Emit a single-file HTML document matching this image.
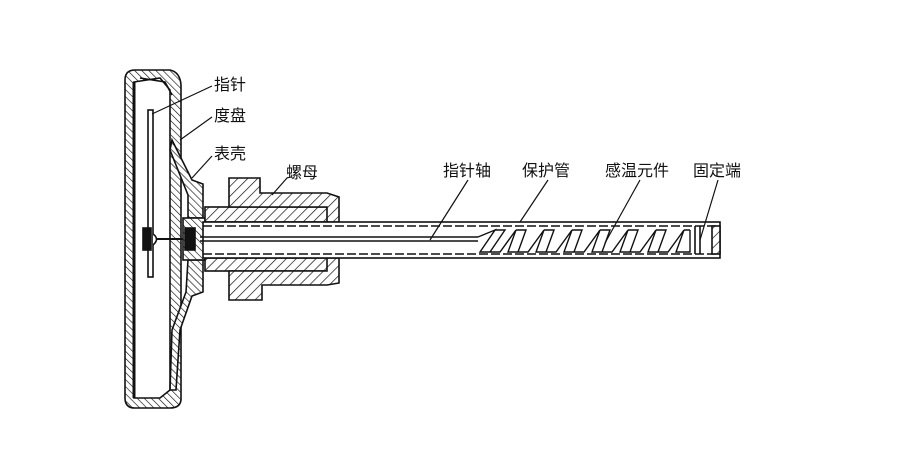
<!DOCTYPE html>
<html><head><meta charset="utf-8"><style>
html,body{margin:0;padding:0;background:#fff;}
svg{display:block}
text{font-family:"Liberation Sans","Noto Sans CJK SC",sans-serif;font-size:16px;fill:#111}
</style></head><body>
<svg width="900" height="474" viewBox="0 0 900 474" xmlns="http://www.w3.org/2000/svg">
<defs>
<pattern id="h" width="7" height="7" patternUnits="userSpaceOnUse" patternTransform="rotate(45)">
<rect width="7" height="7" fill="#fff"/><line x1="0" y1="0" x2="0" y2="7" stroke="#111" stroke-width="1.4"/></pattern>
<pattern id="h2" width="5" height="5" patternUnits="userSpaceOnUse" patternTransform="rotate(-45)">
<rect width="5" height="5" fill="#fff"/><line x1="0" y1="0" x2="0" y2="5" stroke="#111" stroke-width="1.3"/></pattern>
</defs>
<g stroke="#111" stroke-width="1.6" fill="none">
<!-- dial case -->
<path d="M125,80 Q125,70 135,70 L170,70 Q180,72 181,85 L181,400 Q180,408 170,408 L135,408 Q125,408 125,398 Z" fill="url(#h2)"/>
<path d="M134,82 L160,78 L170,90 L170,390 L160,398 L134,398 Z" fill="#fff"/>
<path d="M134,82 L134,398" stroke-width="3"/>
<path d="M140,78 L165,82 L172,95" />
<rect x="148" y="110" width="5" height="167" fill="#fff"/>
<rect x="143" y="228" width="8" height="22" fill="#111"/>
<path d="M153,234 Q160,239 153,245" fill="#fff"/>
<line x1="156" y1="239" x2="200" y2="239" stroke-width="2"/>
<!-- shell cone -->
<path d="M172,140 L192,180 L203,184 L203,218 L188,218 L188,195 L170,150 Z" fill="url(#h2)"/>
<path d="M188,260 L203,260 L203,292 L192,296 L180,330 L176,390 L170,390 L172,330 L186,292 Z" fill="url(#h2)"/>
<!-- small bushing at case -->
<rect x="183" y="218" width="22" height="42" fill="url(#h2)"/>
<rect x="185" y="228" width="10" height="22" fill="#111"/>
<!-- inner bushing -->
<rect x="205" y="207" width="130" height="15" fill="url(#h)"/>
<rect x="205" y="258" width="130" height="13" fill="url(#h)"/>
<!-- nut -->
<path d="M229,178 L260,178 L260,193 L327,193 L339,197 L339,222 L327,222 L327,207 L229,207 Z" fill="url(#h)"/>
<path d="M229,271 L327,271 L327,258 L339,258 L339,283 L327,285 L262,285 L262,300 L229,300 Z" fill="url(#h)"/>
<!-- tube -->
<rect x="203" y="222" width="517" height="36" fill="#fff"/>
<line x1="203" y1="226" x2="720" y2="226" stroke-dasharray="9,3"/>
<line x1="203" y1="254" x2="720" y2="254" stroke-dasharray="9,3"/>
<rect x="712" y="226" width="8" height="28" fill="url(#h)"/>
<line x1="695" y1="226" x2="695" y2="254"/>
<line x1="700" y1="226" x2="700" y2="254"/>
<!-- shaft -->
<line x1="200" y1="237" x2="478" y2="237"/>
<line x1="200" y1="241" x2="478" y2="241"/>
<!-- coil -->
<path d="M478,237 L495,230 L480,252 L500,252 L516,230 L508,252 L528,252 L544,230 L536,252 L556,252 L572,230 L564,252 L584,252 L600,230 L592,252 L612,252 L628,230 L620,252 L640,252 L656,230 L648,252 L668,252 L684,230 L676,252 L690,252 L690,230" stroke-width="1.4"/>
<path d="M495,230 L505,230 L490,252 M516,230 L526,230 L518,252 M544,230 L554,230 L546,252 M572,230 L582,230 L574,252 M600,230 L610,230 L602,252 M628,230 L638,230 L630,252 M656,230 L666,230 L658,252 M684,230 L690,230" stroke-width="1.4"/>
<!-- leaders -->
<g stroke-width="1.2">
<line x1="212" y1="86" x2="152" y2="114"/>
<line x1="212" y1="117" x2="180" y2="140"/>
<line x1="212" y1="156" x2="192" y2="178"/>
<line x1="287" y1="178" x2="272" y2="195"/>
<line x1="468" y1="180" x2="430" y2="240"/>
<line x1="548" y1="180" x2="520" y2="222"/>
<line x1="640" y1="180" x2="605" y2="243"/>
<line x1="718" y1="180" x2="700" y2="240"/>
</g>
</g>
<text x="214" y="90">指针</text>
<text x="214" y="121">度盘</text>
<text x="214" y="159">表壳</text>
<text x="286" y="178">螺母</text>
<text x="443" y="176">指针轴</text>
<text x="522" y="176">保护管</text>
<text x="605" y="176">感温元件</text>
<text x="693" y="176">固定端</text>
</svg>
</body></html>
